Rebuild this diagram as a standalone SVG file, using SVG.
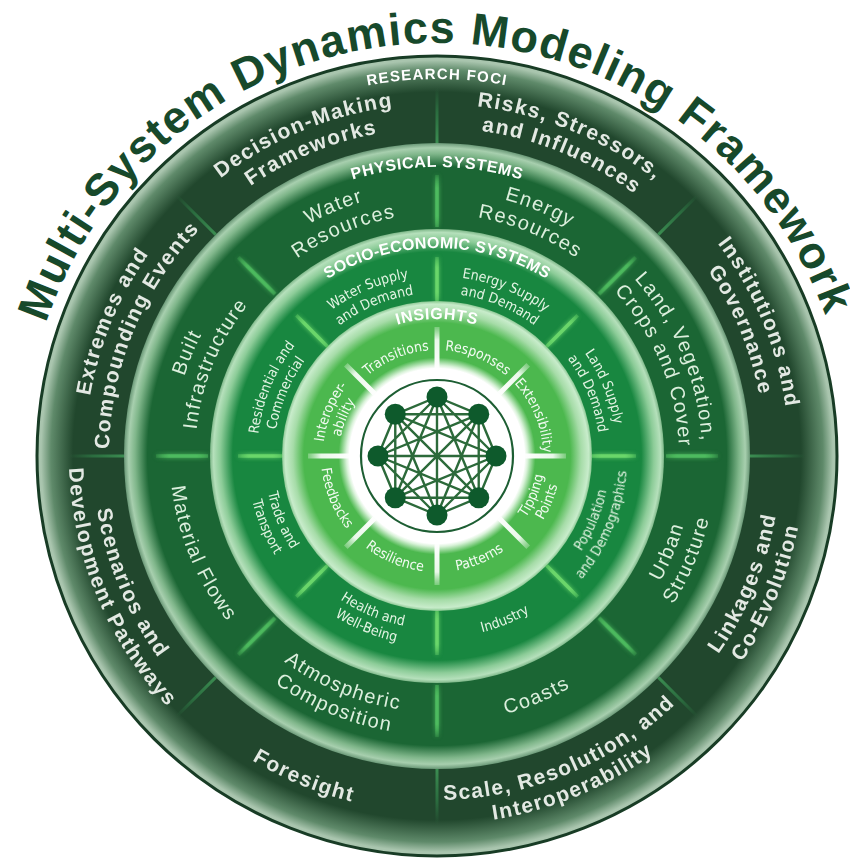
<svg xmlns="http://www.w3.org/2000/svg" width="850" height="860" viewBox="0 0 850 860">
<style>
.title{font-family:"Liberation Sans",Arial,sans-serif;font-weight:bold;font-size:45px;fill:#17492b;letter-spacing:1.3px;text-anchor:middle}
.lbl{font-family:"Liberation Sans",Arial,sans-serif;font-weight:bold;fill:#ffffff;text-anchor:middle}
.o{font-family:"Liberation Sans",Arial,sans-serif;font-weight:bold;font-size:21px;fill:#e3e9e3;letter-spacing:1.5px;text-anchor:middle}
.p{font-family:"Liberation Sans",Arial,sans-serif;font-size:20px;fill:#dcefdd;letter-spacing:1.4px;text-anchor:middle}
.s{font-family:"DejaVu Sans Condensed","Liberation Sans",sans-serif;font-size:14px;fill:#e3f4e3;text-anchor:middle}
.i{font-family:"DejaVu Sans Condensed","Liberation Sans",sans-serif;font-size:14px;fill:#f2fbf2;text-anchor:middle}
.dO{stroke:url(#gdO);stroke-width:3;fill:none}
.dP{stroke:url(#gdP);stroke-width:3.5;fill:none}
.dS{stroke:url(#gdS);stroke-width:3.5;fill:none}
.dI{stroke:url(#gdI);stroke-width:5;fill:none}
.edge{stroke:#2c6a3a;stroke-width:2.4;fill:none}
.node{fill:#0e5a2c}
</style>
<defs>
<radialGradient id="gOuter" gradientUnits="userSpaceOnUse" cx="437" cy="456" r="400">
<stop offset="0" stop-color="#21472d"/><stop offset="0.91" stop-color="#21472d"/><stop offset="0.965" stop-color="#5f8a6a"/><stop offset="0.99" stop-color="#a9c5ae"/><stop offset="1" stop-color="#a9c5ae"/>
</radialGradient>
<radialGradient id="gPhys" gradientUnits="userSpaceOnUse" cx="437" cy="456" r="313">
<stop offset="0" stop-color="#1b6634"/><stop offset="0.925" stop-color="#1b6634"/><stop offset="0.965" stop-color="#7fb68a"/><stop offset="0.985" stop-color="#a7cfae"/><stop offset="1" stop-color="#6a9877"/>
</radialGradient>
<radialGradient id="gSocio" gradientUnits="userSpaceOnUse" cx="437" cy="456" r="227">
<stop offset="0" stop-color="#188740"/><stop offset="0.9" stop-color="#188740"/><stop offset="0.955" stop-color="#8ccc98"/><stop offset="0.985" stop-color="#b5e0bb"/><stop offset="1" stop-color="#7fb88a"/>
</radialGradient>
<radialGradient id="gIns" gradientUnits="userSpaceOnUse" cx="437" cy="456" r="155">
<stop offset="0" stop-color="#ffffff"/><stop offset="0.565" stop-color="#ffffff"/><stop offset="0.585" stop-color="#d8f2d8"/><stop offset="0.635" stop-color="#4cb84e"/><stop offset="0.86" stop-color="#4cb84e"/><stop offset="0.93" stop-color="#a6dca8"/><stop offset="0.98" stop-color="#c8eccb"/><stop offset="1" stop-color="#8cc894"/>
</radialGradient>
<radialGradient id="gdO" gradientUnits="userSpaceOnUse" cx="437" cy="456" r="400">
<stop offset="0.78" stop-color="#3f9656" stop-opacity="0.9"/><stop offset="0.86" stop-color="#2f7d47" stop-opacity="0.7"/><stop offset="0.92" stop-color="#2f7d47" stop-opacity="0"/>
</radialGradient>
<radialGradient id="gdP" gradientUnits="userSpaceOnUse" cx="437" cy="456" r="400">
<stop offset="0.57" stop-color="#4dbb5e" stop-opacity="0.5"/><stop offset="0.6" stop-color="#4dbb5e" stop-opacity="1"/><stop offset="0.67" stop-color="#4dbb5e" stop-opacity="1"/><stop offset="0.705" stop-color="#4dbb5e" stop-opacity="0.2"/>
</radialGradient>
<radialGradient id="gdS" gradientUnits="userSpaceOnUse" cx="437" cy="456" r="400">
<stop offset="0.385" stop-color="#6ad66a" stop-opacity="0.6"/><stop offset="0.41" stop-color="#6ad66a" stop-opacity="1"/><stop offset="0.47" stop-color="#6ad66a" stop-opacity="1"/><stop offset="0.5" stop-color="#6ad66a" stop-opacity="0.3"/>
</radialGradient>
<radialGradient id="gdI" gradientUnits="userSpaceOnUse" cx="437" cy="456" r="400">
<stop offset="0.215" stop-color="#ffffff" stop-opacity="1"/><stop offset="0.29" stop-color="#eaf8ea" stop-opacity="1"/><stop offset="0.325" stop-color="#d0efd0" stop-opacity="0.3"/>
</radialGradient>
<filter id="glow" x="-50%" y="-50%" width="200%" height="200%">
<feGaussianBlur stdDeviation="2"/>
<feMerge><feMergeNode/><feMergeNode in="SourceGraphic"/></feMerge>
</filter>
<line id="lnO" x1="437" y1="143" x2="437" y2="88"/>
<line id="lnP" x1="437" y1="227" x2="437" y2="175"/>
<line id="lnS" x1="437" y1="301" x2="437" y2="257"/>
<line id="lnI" x1="437" y1="368" x2="437" y2="327"/>
<path id="title" d="M25.57,420 A413,413 0 0 1 848.43,420"/>
<path id="tRF" d="M148.2,213.67 A377,377 0 0 1 725.8,213.67"/>
<path id="tPS" d="M215.61,270.23 A289,289 0 0 1 658.39,270.23"/>
<path id="tSE" d="M277.66,322.3 A208,208 0 0 1 596.34,322.3"/>
<path id="tIN" d="M332.05,367.94 A137,137 0 0 1 541.95,367.94"/>
<path id="t352" d="M167.35,229.74 A352,352 0 0 1 706.65,229.74"/>
<path id="t328" d="M185.74,245.16 A328,328 0 0 1 688.26,245.16"/>
<path id="b344" d="M173.48,677.12 A344,344 0 0 0 700.52,677.12"/>
<path id="b368" d="M155.1,692.55 A368,368 0 0 0 718.9,692.55"/>
<path id="b356" d="M164.29,684.83 A356,356 0 0 0 709.71,684.83"/>
<path id="t265" d="M234,285.66 A265,265 0 0 1 640,285.66"/>
<path id="t242" d="M251.62,300.44 A242,242 0 0 1 622.38,300.44"/>
<path id="b256" d="M240.89,620.55 A256,256 0 0 0 633.11,620.55"/>
<path id="b279" d="M223.27,635.34 A279,279 0 0 0 650.73,635.34"/>
<path id="b267" d="M232.47,627.62 A267,267 0 0 0 641.53,627.62"/>
<path id="t180" d="M299.11,340.3 A180,180 0 0 1 574.89,340.3"/>
<path id="t163" d="M312.14,351.23 A163,163 0 0 1 561.86,351.23"/>
<path id="b173" d="M304.48,567.2 A173,173 0 0 0 569.52,567.2"/>
<path id="b190" d="M291.45,578.13 A190,190 0 0 0 582.55,578.13"/>
<path id="b182" d="M297.58,572.99 A182,182 0 0 0 576.42,572.99"/>
<path id="t106" d="M355.8,387.86 A106,106 0 0 1 518.2,387.86"/>
<path id="t114" d="M349.67,382.72 A114,114 0 0 1 524.33,382.72"/>
<path id="t98" d="M361.93,393.01 A98,98 0 0 1 512.07,393.01"/>
<path id="b116" d="M348.14,530.56 A116,116 0 0 0 525.86,530.56"/>
<path id="b108" d="M354.27,525.42 A108,108 0 0 0 519.73,525.42"/>
<path id="b124" d="M342.01,535.71 A124,124 0 0 0 531.99,535.71"/>
</defs>
<rect width="850" height="860" fill="#ffffff"/>
<text class="title" id="diagram-title" transform="rotate(-0.5 437 456)"><textPath href="#title" startOffset="50%">Multi-System Dynamics Modeling Framework</textPath></text>
<g id="rings">
<circle id="ring-research-foci" cx="437" cy="456" r="400" fill="url(#gOuter)" stroke="#183c25" stroke-width="3"/>
<circle id="ring-physical" cx="437" cy="456" r="313" fill="url(#gPhys)"/>
<circle id="ring-socio" cx="437" cy="456" r="227" fill="url(#gSocio)"/>
<circle id="ring-insights" cx="437" cy="456" r="155" fill="url(#gIns)"/>
</g>
<g id="dividers">
<g class="dO">
<use href="#lnO"/><use href="#lnO" transform="rotate(45 437 456)"/><use href="#lnO" transform="rotate(90 437 456)"/><use href="#lnO" transform="rotate(135 437 456)"/><use href="#lnO" transform="rotate(180 437 456)"/><use href="#lnO" transform="rotate(225 437 456)"/><use href="#lnO" transform="rotate(270 437 456)"/><use href="#lnO" transform="rotate(315 437 456)"/>
</g>
<g class="dP" filter="url(#glow)">
<use href="#lnP"/><use href="#lnP" transform="rotate(45 437 456)"/><use href="#lnP" transform="rotate(90 437 456)"/><use href="#lnP" transform="rotate(135 437 456)"/><use href="#lnP" transform="rotate(180 437 456)"/><use href="#lnP" transform="rotate(225 437 456)"/><use href="#lnP" transform="rotate(270 437 456)"/><use href="#lnP" transform="rotate(315 437 456)"/>
</g>
<g class="dS" filter="url(#glow)">
<use href="#lnS"/><use href="#lnS" transform="rotate(45 437 456)"/><use href="#lnS" transform="rotate(90 437 456)"/><use href="#lnS" transform="rotate(135 437 456)"/><use href="#lnS" transform="rotate(180 437 456)"/><use href="#lnS" transform="rotate(225 437 456)"/><use href="#lnS" transform="rotate(270 437 456)"/><use href="#lnS" transform="rotate(315 437 456)"/>
</g>
<g class="dI">
<use href="#lnI"/><use href="#lnI" transform="rotate(45 437 456)"/><use href="#lnI" transform="rotate(90 437 456)"/><use href="#lnI" transform="rotate(135 437 456)"/><use href="#lnI" transform="rotate(180 437 456)"/><use href="#lnI" transform="rotate(225 437 456)"/><use href="#lnI" transform="rotate(270 437 456)"/><use href="#lnI" transform="rotate(315 437 456)"/>
</g>
</g>
<g id="ring-labels">
<text class="lbl" font-size="15" letter-spacing="1.2"><textPath href="#tRF" startOffset="50%">RESEARCH FOCI</textPath></text>
<text class="lbl" font-size="16" letter-spacing="0.6"><textPath href="#tPS" startOffset="50%">PHYSICAL SYSTEMS</textPath></text>
<text class="lbl" font-size="16" letter-spacing="0.2"><textPath href="#tSE" startOffset="50%">SOCIO-ECONOMIC SYSTEMS</textPath></text>
<text class="lbl" font-size="16" letter-spacing="0.6"><textPath href="#tIN" startOffset="50%">INSIGHTS</textPath></text>
</g>
<g id="research-foci">
<g id="decision-making" transform="rotate(-22.5 437 456)"><text class="o"><textPath href="#t352" startOffset="50%">Decision-Making</textPath></text><text class="o"><textPath href="#t328" startOffset="50%">Frameworks</textPath></text></g>
<g id="risks" transform="rotate(22.5 437 456)"><text class="o"><textPath href="#t352" startOffset="50%">Risks, Stressors,</textPath></text><text class="o"><textPath href="#t328" startOffset="50%">and Influences</textPath></text></g>
<g id="institutions" transform="rotate(67.5 437 456)"><text class="o"><textPath href="#t352" startOffset="50%">Institutions and</textPath></text><text class="o"><textPath href="#t328" startOffset="50%">Governance</textPath></text></g>
<g id="extremes" transform="rotate(-67.5 437 456)"><text class="o"><textPath href="#t352" startOffset="50%">Extremes and</textPath></text><text class="o"><textPath href="#t328" startOffset="50%">Compounding Events</textPath></text></g>
<g id="linkages" transform="rotate(-67.5 437 456)"><text class="o"><textPath href="#b344" startOffset="50%">Linkages and</textPath></text><text class="o"><textPath href="#b368" startOffset="50%">Co-Evolution</textPath></text></g>
<g id="scale" transform="rotate(-22.5 437 456)"><text class="o"><textPath href="#b344" startOffset="50%">Scale, Resolution, and</textPath></text><text class="o"><textPath href="#b368" startOffset="50%">Interoperability</textPath></text></g>
<g id="foresight" transform="rotate(22.5 437 456)"><text class="o"><textPath href="#b356" startOffset="50%">Foresight</textPath></text></g>
<g id="scenarios" transform="rotate(67.5 437 456)"><text class="o"><textPath href="#b344" startOffset="50%">Scenarios and</textPath></text><text class="o"><textPath href="#b368" startOffset="50%">Development Pathways</textPath></text></g>
</g>
<g id="physical-systems">
<g id="water-resources" transform="rotate(-22.5 437 456)"><text class="p"><textPath href="#t265" startOffset="50%">Water</textPath></text><text class="p"><textPath href="#t242" startOffset="50%">Resources</textPath></text></g>
<g id="energy-resources" transform="rotate(22.5 437 456)"><text class="p"><textPath href="#t265" startOffset="50%">Energy</textPath></text><text class="p"><textPath href="#t242" startOffset="50%">Resources</textPath></text></g>
<g id="land-vegetation" transform="rotate(67.5 437 456)"><text class="p"><textPath href="#t265" startOffset="50%">Land, Vegetation,</textPath></text><text class="p"><textPath href="#t242" startOffset="50%">Crops and Cover</textPath></text></g>
<g id="built-infrastructure" transform="rotate(-67.5 437 456)"><text class="p"><textPath href="#t265" startOffset="50%">Built</textPath></text><text class="p"><textPath href="#t242" startOffset="50%">Infrastructure</textPath></text></g>
<g id="urban-structure" transform="rotate(-67.5 437 456)"><text class="p"><textPath href="#b256" startOffset="50%">Urban</textPath></text><text class="p"><textPath href="#b279" startOffset="50%">Structure</textPath></text></g>
<g id="coasts" transform="rotate(-22.5 437 456)"><text class="p"><textPath href="#b267" startOffset="50%">Coasts</textPath></text></g>
<g id="atmospheric" transform="rotate(22.5 437 456)"><text class="p"><textPath href="#b256" startOffset="50%">Atmospheric</textPath></text><text class="p"><textPath href="#b279" startOffset="50%">Composition</textPath></text></g>
<g id="material-flows" transform="rotate(67.5 437 456)"><text class="p"><textPath href="#b267" startOffset="50%">Material Flows</textPath></text></g>
</g>
<g id="socio-economic-systems">
<g id="water-supply" transform="rotate(-22.5 437 456)"><text class="s"><textPath href="#t180" startOffset="50%">Water Supply</textPath></text><text class="s"><textPath href="#t163" startOffset="50%">and Demand</textPath></text></g>
<g id="energy-supply" transform="rotate(22.5 437 456)"><text class="s"><textPath href="#t180" startOffset="50%">Energy Supply</textPath></text><text class="s"><textPath href="#t163" startOffset="50%">and Demand</textPath></text></g>
<g id="land-supply" transform="rotate(67.5 437 456)"><text class="s"><textPath href="#t180" startOffset="50%">Land Supply</textPath></text><text class="s"><textPath href="#t163" startOffset="50%">and Demand</textPath></text></g>
<g id="residential" transform="rotate(-67.5 437 456)"><text class="s"><textPath href="#t180" startOffset="50%">Residential and</textPath></text><text class="s"><textPath href="#t163" startOffset="50%">Commercial</textPath></text></g>
<g id="population" transform="rotate(-67.5 437 456)"><text class="s"><textPath href="#b173" startOffset="50%">Population</textPath></text><text class="s"><textPath href="#b190" startOffset="50%">and Demographics</textPath></text></g>
<g id="industry" transform="rotate(-22.5 437 456)"><text class="s"><textPath href="#b182" startOffset="50%">Industry</textPath></text></g>
<g id="health" transform="rotate(22.5 437 456)"><text class="s"><textPath href="#b173" startOffset="50%">Health and</textPath></text><text class="s"><textPath href="#b190" startOffset="50%">Well-Being</textPath></text></g>
<g id="trade" transform="rotate(67.5 437 456)"><text class="s"><textPath href="#b173" startOffset="50%">Trade and</textPath></text><text class="s"><textPath href="#b190" startOffset="50%">Transport</textPath></text></g>
</g>
<g id="insights">
<g id="transitions" transform="rotate(-22.5 437 456)"><text class="i"><textPath href="#t106" startOffset="50%">Transitions</textPath></text></g>
<g id="responses" transform="rotate(22.5 437 456)"><text class="i"><textPath href="#t106" startOffset="50%">Responses</textPath></text></g>
<g id="extensibility" transform="rotate(67.5 437 456)"><text class="i"><textPath href="#t106" startOffset="50%">Extensibility</textPath></text></g>
<g id="interoperability" transform="rotate(-67.5 437 456)"><text class="i"><textPath href="#t114" startOffset="50%">Interoper-</textPath></text><text class="i"><textPath href="#t98" startOffset="50%">ability</textPath></text></g>
<g id="tipping-points" transform="rotate(-67.5 437 456)"><text class="i"><textPath href="#b108" startOffset="50%">Tipping</textPath></text><text class="i"><textPath href="#b124" startOffset="50%">Points</textPath></text></g>
<g id="patterns" transform="rotate(-22.5 437 456)"><text class="i"><textPath href="#b116" startOffset="50%">Patterns</textPath></text></g>
<g id="resilience" transform="rotate(22.5 437 456)"><text class="i"><textPath href="#b116" startOffset="50%">Resilience</textPath></text></g>
<g id="feedbacks" transform="rotate(67.5 437 456)"><text class="i"><textPath href="#b116" startOffset="50%">Feedbacks</textPath></text></g>
</g>
<circle id="network-frame" cx="437" cy="456" r="76" fill="none" stroke="#1d5e33" stroke-width="2.2"/>
<g id="connectors">
<path class="edge" d="M437 397L478.72 414.28M437 397L496 456M437 397L478.72 497.72M437 397L437 515M437 397L395.28 497.72M437 397L378 456M437 397L395.28 414.28M478.72 414.28L496 456M478.72 414.28L478.72 497.72M478.72 414.28L437 515M478.72 414.28L395.28 497.72M478.72 414.28L378 456M478.72 414.28L395.28 414.28M496 456L478.72 497.72M496 456L437 515M496 456L395.28 497.72M496 456L378 456M496 456L395.28 414.28M478.72 497.72L437 515M478.72 497.72L395.28 497.72M478.72 497.72L378 456M478.72 497.72L395.28 414.28M437 515L395.28 497.72M437 515L378 456M437 515L395.28 414.28M395.28 497.72L378 456M395.28 497.72L395.28 414.28M378 456L395.28 414.28"/>
</g>
<g id="node-0"><circle class="node" cx="437" cy="397" r="10.5"/></g>
<g id="node-1"><circle class="node" cx="478.72" cy="414.28" r="10.5"/></g>
<g id="node-2"><circle class="node" cx="496" cy="456" r="10.5"/></g>
<g id="node-3"><circle class="node" cx="478.72" cy="497.72" r="10.5"/></g>
<g id="node-4"><circle class="node" cx="437" cy="515" r="10.5"/></g>
<g id="node-5"><circle class="node" cx="395.28" cy="497.72" r="10.5"/></g>
<g id="node-6"><circle class="node" cx="378" cy="456" r="10.5"/></g>
<g id="node-7"><circle class="node" cx="395.28" cy="414.28" r="10.5"/></g>
</svg>
